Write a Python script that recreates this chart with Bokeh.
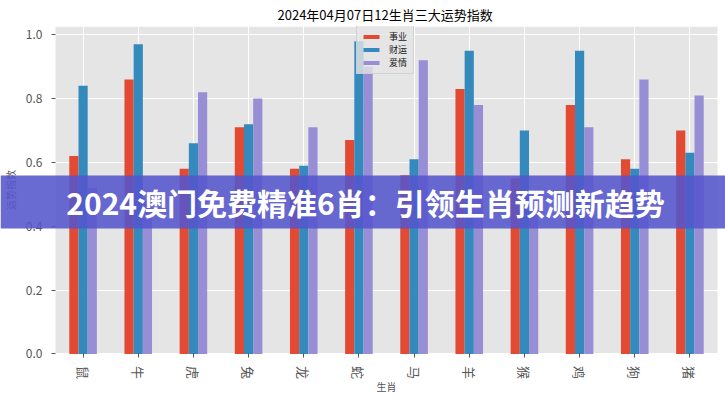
from bokeh.plotting import figure
from bokeh.models import (Range1d, FixedTicker, Legend, LegendItem, BoxAnnotation,
                          Label, ColumnDataSource, NumeralTickFormatter)
from bokeh.transform import dodge
from bokeh.embed import file_html
from bokeh.resources import INLINE

zodiac = ["鼠", "牛", "虎", "兔", "龙", "蛇", "马", "羊", "猴", "鸡", "狗", "猪"]
career = [0.62, 0.86, 0.58, 0.71, 0.58, 0.67, 0.56, 0.83, 0.55, 0.78, 0.61, 0.70]
wealth = [0.84, 0.97, 0.66, 0.72, 0.59, 0.98, 0.61, 0.95, 0.70, 0.95, 0.58, 0.63]
love = [0.52, 0.48, 0.82, 0.80, 0.71, 0.90, 0.92, 0.78, 0.45, 0.71, 0.86, 0.81]
series_names = ["事业", "财运", "爱情"]
series_keys = ["career", "wealth", "love"]
colors = ["#E24A33", "#348ABD", "#988ED5"]
y_ticks = [0.0, 0.2, 0.4, 0.6, 0.8, 1.0]
title_text = "2024年04月07日12生肖三大运势指数"
x_label = "生肖"
y_label = "运势指数"
banner_text = "2024澳门免费精准6肖：引领生肖预测新趋势"

FONT = "Noto Sans CJK SC"
W, H = 725, 400
n = len(zodiac)
idx = list(range(n))
src = ColumnDataSource(dict(idx=idx, career=career, wealth=wealth, love=love))

# frame spans the whole canvas below the title; the grey plot area covers the data span only
TOP = 25
y_top = 1.026
px_per_unit = (353.3 - TOP) / y_top
y_start = -(H - 353.3) / px_per_unit
unit = 662 / n
x_start = -0.5 - 55 / unit
x_end = (n - 0.5) + 8 / unit

p = figure(width=W, height=H,
           x_range=Range1d(x_start, x_end), y_range=Range1d(y_start, y_top),
           output_backend="svg", toolbar_location=None,
           min_border_left=0, min_border_right=0, min_border_top=TOP, min_border_bottom=0,
           background_fill_color="white", border_fill_color="white",
           outline_line_color=None)

p.add_layout(BoxAnnotation(left=-0.5, right=n - 0.5, bottom=0, fill_color="#E5E5E5",
                           fill_alpha=1, line_color=None, level="image"))

w = 0.5 / 3
offsets = [-w, 0.0, w]
items = []
for key, name, off, col in zip(series_keys, series_names, offsets, colors):
    r = p.vbar(x=dodge("idx", off), top=key, width=w, source=src,
               fill_color=col, line_color=None)
    items.append(LegendItem(label=name, renderers=[r]))

legend = Legend(items=items, location=(356, 326), padding=4, margin=0, spacing=0,
                glyph_width=20, glyph_height=5, label_height=10, label_standoff=8,
                label_text_font=FONT, label_text_font_size="9px", label_text_color="#222222",
                background_fill_color="#E5E5E5", background_fill_alpha=0.8,
                border_line_color="#CCCCCC", border_line_alpha=0.8)
p.add_layout(legend)

for ax in (p.xaxis[0], p.yaxis[0]):
    ax.axis_line_color = None
    ax.major_tick_line_color = "#555555"
    ax.major_tick_out = 4
    ax.major_tick_in = 0
    ax.minor_tick_line_color = None
    ax.major_label_text_color = "#555555"
    ax.major_label_text_font = FONT
    ax.axis_label_text_font = FONT
    ax.axis_label_text_font_style = "normal"
    ax.axis_label_text_color = "#555555"
    ax.axis_label_text_font_size = "10px"

p.yaxis.fixed_location = -0.5
p.yaxis.bounds = (0, y_top)
p.yaxis.ticker = FixedTicker(ticks=y_ticks)
p.yaxis.formatter = NumeralTickFormatter(format="0.0")
p.yaxis.major_label_text_font_size = "12px"
p.yaxis.major_label_standoff = 9
p.yaxis.axis_label = y_label
p.yaxis.axis_label_standoff = 5

p.xaxis.fixed_location = 0
p.xaxis.bounds = (-0.5, n - 0.5)
p.xaxis.ticker = FixedTicker(ticks=idx)
p.xaxis.major_label_overrides = {i: z for i, z in zip(idx, zodiac)}
p.xaxis.major_label_orientation = "vertical"
p.xaxis.major_label_text_font_size = "13px"
p.xaxis.major_label_standoff = 8
p.xaxis.axis_label = x_label
p.xaxis.axis_label_standoff = -3

p.xgrid.ticker = FixedTicker(ticks=idx)
p.xgrid.grid_line_color = "white"
p.ygrid.ticker = FixedTicker(ticks=y_ticks)
p.ygrid.grid_line_color = "white"

p.title.text = title_text
p.title.align = "left"
p.title.offset = 277
p.title.standoff = 5
p.title.text_font = FONT
p.title.text_font_size = "13px"
p.title.text_font_style = "normal"
p.title.text_color = "black"

p.add_layout(BoxAnnotation(left=0, right=W, top=175, bottom=228,
                           left_units="canvas", right_units="canvas",
                           top_units="canvas", bottom_units="canvas",
                           fill_color="#5555CD", fill_alpha=0.88, line_color=None,
                           level="overlay"))
p.add_layout(Label(x=365, y=201, x_units="canvas", y_units="canvas", text=banner_text,
                   text_align="center", text_baseline="middle", text_font=FONT,
                   text_font_style="bold", text_font_size="30px", text_color="white",
                   level="overlay"))

open("out.html", "w").write(file_html(p, INLINE))
